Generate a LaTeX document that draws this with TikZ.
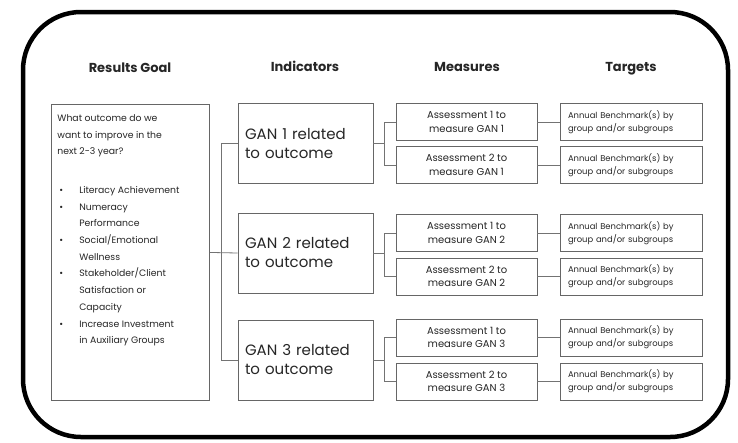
\documentclass[tikz,border=0pt]{standalone}
\usepackage{fontspec}
\setmainfont{Poppins}
\usetikzlibrary{positioning}
\tikzset{
  frame/.style={draw=black, line width=4.5pt, rounded corners=58pt},
  header/.style={font=\bfseries\fontsize{13}{15}\selectfont, text=black!85},
  box/.style={draw=black!60, line width=0.9pt, fill=white, text=black!85, inner sep=0pt},
  link/.style={draw=black!55, line width=0.8pt},
}

\begin{document}
\begin{tikzpicture}[x=1pt, y=-1pt]
  \useasboundingbox (0,0) rectangle (738,442);

  \draw[frame] (23,12) rectangle (728,437);

  % column headings
  \node[header] (hgoal) at (130,68) {Results Goal};
  \node[header] (hind) at (305,66) {Indicators};
  \node[header] (hmeas) at (467,67) {Measures};
  \node[header] (htarg) at (631,69) {Targets};

  \node[box, minimum width=158pt, minimum height=296pt, anchor=north west,
        font=\fontsize{9.3}{16.7}\selectfont] (goal) at (51,104)
    {\parbox[t][282pt][t]{146pt}{\vspace*{3pt}%
      What outcome do we\\ want to improve in the\\ next 2-3 year?\par\vspace{22pt}%
      \begin{tabular}[t]{@{\hspace{2pt}}l@{\hspace{16pt}}l@{}}
        \textbullet & Literacy Achievement\\
        \textbullet & Numeracy\\
                    & Performance\\
        \textbullet & Social/Emotional\\
                    & Wellness\\
        \textbullet & Stakeholder/Client\\
                    & Satisfaction or\\
                    & Capacity\\
        \textbullet & Increase Investment\\
                    & in Auxiliary Groups
      \end{tabular}}};

  \begin{scope}[every node/.style={box, minimum width=135pt, minimum height=80pt,
        text width=121pt, align=left, font=\fontsize{15}{19}\selectfont}]
    \node (ind1) at (305.5,143.5) {GAN 1 related\\to outcome};
    \node (ind2) at (305.5,253) {GAN 2 related\\to outcome};
    \node (ind3) at (305.5,360) {GAN 3 related\\to outcome};
  \end{scope}

  \begin{scope}[every node/.style={box, minimum width=141pt, minimum height=37pt,
        align=center, font=\fontsize{10}{13.5}\selectfont}]
    \node (m1a) at (466.5,122) {Assessment 1 to\\measure GAN 1};
    \node (m1b) at (466.5,165) {Assessment 2 to\\measure GAN 1};
    \node (m2a) at (466.5,233) {Assessment 1 to\\measure GAN 2};
    \node (m2b) at (466.5,276.5) {Assessment 2 to\\measure GAN 2};
    \node (m3a) at (466.5,337.5) {Assessment 1 to\\measure GAN 3};
    \node (m3b) at (466.5,381.5) {Assessment 2 to\\measure GAN 3};
  \end{scope}

  \begin{scope}[every node/.style={box, minimum width=142pt, minimum height=37pt,
        text width=126pt, align=left, font=\fontsize{8.4}{13}\selectfont}]
    \node (t1a) at (631,122) {Annual Benchmark(s) by\\group and/or subgroups};
    \node (t1b) at (631,165) {Annual Benchmark(s) by\\group and/or subgroups};
    \node (t2a) at (631,233) {Annual Benchmark(s) by\\group and/or subgroups};
    \node (t2b) at (631,276.5) {Annual Benchmark(s) by\\group and/or subgroups};
    \node (t3a) at (631,337.5) {Annual Benchmark(s) by\\group and/or subgroups};
    \node (t3b) at (631,381.5) {Annual Benchmark(s) by\\group and/or subgroups};
  \end{scope}

  % goal to indicators
  \draw[link] (goal.east) -- (ind2.west);
  \draw[link] (ind1.west) -- ++(-16,0) |- (ind3.west);

  % indicators to measures
  \foreach \i in {1,2,3} {
    \draw[link] (ind\i.east) -- ++(12,0);
    \draw[link] (m\i a.west) -- ++(-11,0) |- (m\i b.west);
    \draw[link] (m\i a) -- (t\i a);
    \draw[link] (m\i b) -- (t\i b);
  }
\end{tikzpicture}
\end{document}
